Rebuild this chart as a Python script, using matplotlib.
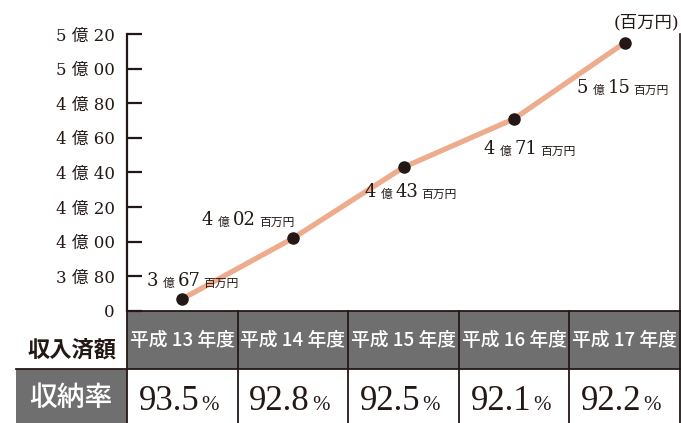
import matplotlib
matplotlib.use('Agg')
import matplotlib.pyplot as plt
from matplotlib.patches import Rectangle

# ---- data ----
years = ['平成 13 年度', '平成 14 年度', '平成 15 年度', '平成 16 年度', '平成 17 年度']
amounts = [367, 402, 443, 471, 515]          # 百万円
rates = [93.5, 92.8, 92.5, 92.1, 92.2]       # %
tick_vals = [360, 380, 400, 420, 440, 460, 480, 500, 520]
tick_labels = ['0', '3 億 80', '4 億 00', '4 億 20', '4 億 40',
               '4 億 60', '4 億 80', '5 億 00', '5 億 20']
row_label_top = '収入済額'
row_label_bottom = '収納率'
unit_label = '(百万円)'

# ---- style ----
DARK = '#231815'
GRAY = '#6f6f6f'
LINE = '#eeac8e'
SERIF = ['Liberation Serif', 'Noto Sans CJK JP']
WSERIF = ['DejaVu Serif', 'Noto Sans CJK JP']
SANS = ['Noto Sans CJK JP', 'DejaVu Sans']
plt.rcParams['font.family'] = SERIF

W, H = 681, 423
fig = plt.figure(figsize=(W / 100, H / 100), dpi=100)
L, R, T, B = 127, 680, 34, 311
HDR_B = 369

# overlay axes in pixel coordinates for the table
ov = fig.add_axes([0, 0, 1, 1], zorder=0)
ov.set_xlim(0, W)
ov.set_ylim(H, 0)
ov.axis('off')

ax = fig.add_axes([L / W, 1 - B / H, (R - L) / W, (B - T) / H], zorder=2)
ax.set_facecolor('none')
ax.set_xlim(-0.5, len(years) - 0.5)
ax.set_ylim(tick_vals[0], tick_vals[-1])

xs = list(range(len(years)))
ax.plot(xs, amounts, color=LINE, lw=3.8, solid_capstyle='round', zorder=2, clip_on=False)
ax.plot(xs, amounts, 'o', color=DARK, ms=8, zorder=3, clip_on=False)

ax.set_yticks(tick_vals)
ax.set_yticklabels(tick_labels, fontsize=12, color=DARK, family=WSERIF)
ax.set_xticks([])
ax.tick_params(axis='y', direction='in', length=11, width=1.6, pad=9, color=DARK)
for s in ['top', 'bottom']:
    ax.spines[s].set_visible(False)
ax.spines['left'].set_linewidth(1.6)
ax.spines['left'].set_color(DARK)
ax.spines['right'].set_linewidth(1.2)
ax.spines['right'].set_color(DARK)

# value labels
label_offsets = [(-36, 13), (-91, 13), (-39, -30), (-31, -35), (-48, -50)]
for x, v, (dx, dy) in zip(xs, amounts, label_offsets):
    parts = [(f'{v // 100}', 13, WSERIF, 0), ('億', 8.5, SANS, 5),
             (f'{v % 100:02d}', 13, WSERIF, 3), ('百万円', 8.5, SANS, 3)]
    prev = ax.annotate(parts[0][0], xy=(x, v), xytext=(dx, dy),
                       textcoords='offset pixels', ha='left', va='baseline',
                       fontsize=parts[0][1], family=parts[0][2], color=DARK,
                       annotation_clip=False)
    for txt, fs, fam, gap in parts[1:]:
        prev = ax.annotate(txt, xy=(1, 0), xycoords=prev, xytext=(gap, 0),
                           textcoords='offset pixels', ha='left', va='bottom',
                           fontsize=fs, family=fam, color=DARK,
                           annotation_clip=False)

ov.text(679, 23, unit_label, ha='right', va='center', fontsize=12.5,
        family=WSERIF, color=DARK)

# ---- table ----
colw = (R - L) / len(years)
ov.add_patch(Rectangle((L, B), W - L, HDR_B - B, fc=GRAY, ec='none'))
ov.add_patch(Rectangle((16, HDR_B), L - 16, H - HDR_B, fc=GRAY, ec='none'))
ov.plot([L, W], [B, B], color=DARK, lw=1.3)
ov.plot([16, W], [HDR_B, HDR_B], color=DARK, lw=1.3)
for i in range(len(years) + 1):
    x = L + i * colw
    ov.plot([x, x], [B, H], color=DARK, lw=1.3)

for i, (yr, r) in enumerate(zip(years, rates)):
    cx = L + (i + 0.5) * colw
    ov.text(cx, 341, yr, ha='center', va='center', fontsize=13.5,
            family=SANS, weight='medium', color='white')
    ov.text(cx + 17, 410, f'{r:.1f}', ha='right', va='baseline', fontsize=25,
            family=SERIF, color=DARK)
    ov.text(cx + 19, 410, '%', ha='left', va='baseline', fontsize=15,
            family=SERIF, color=DARK)

ov.text(72, 350, row_label_top, ha='center', va='center', fontsize=16,
        weight='bold', family=SANS, color=DARK)
ov.text(71, 397, row_label_bottom, ha='center', va='center', fontsize=20,
        weight='medium', family=SANS, color='white')

fig.savefig('out.png', dpi=100)
